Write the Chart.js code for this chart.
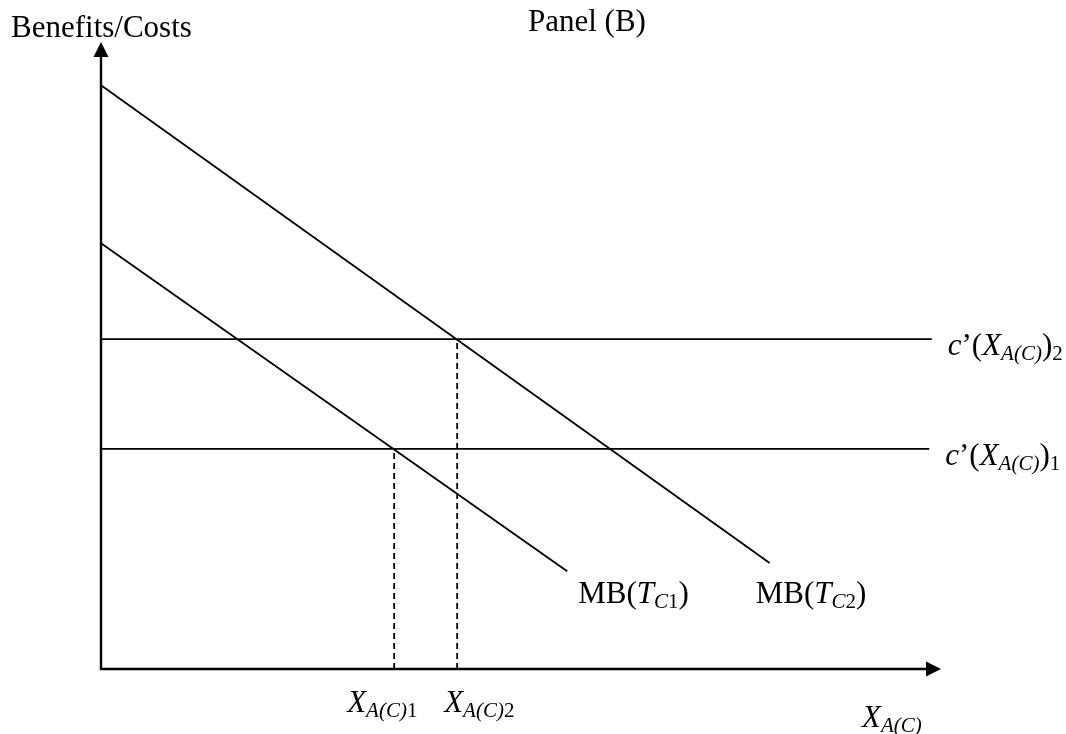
<!DOCTYPE html>
<html>
<head>
	<style type="text/css">
	body{ margin: 0; background: #fff; }
	#wrap{ width: 1066px; height: 734px; }
	</style>
	<title>Panel (B)</title>
	<script type="text/javascript" src="https://cdn.jsdelivr.net/npm/chart.js@4.4.0/dist/chart.umd.min.js"></script>
</head>
<body>
<div id="wrap"><canvas id="chart" width="1066" height="734"></canvas></div>
<script type="text/javascript">
	// values (axis units 0..10 on both axes)
	var mb1X = [0, 5.55];
	var mb1Y = [6.79, 1.56];
	var mb2X = [0, 7.96];
	var mb2Y = [9.31, 1.69];
	var costLevels = [3.51, 5.26];   // c'(X)1, c'(X)2
	var costEndX = [9.86, 9.89];
	var eqX = [3.49, 4.24];           // X_A(C)1, X_A(C)2

	function pts(xs, ys) {
		var out = [];
		for (var i = 0; i < xs.length; ++i) out.push({x: xs[i], y: ys[i]});
		return out;
	}

	function line(data, dash) {
		return {
			data: data,
			borderColor: '#000',
			borderWidth: 1.8,
			borderDash: dash || [],
			pointRadius: 0,
			fill: false,
			clip: false,
			tension: 0
		};
	}

	var SERIF = '"Liberation Serif", "Times New Roman", serif';
	var BIG = 31, SMALL = 21;

	// parts: [text, italic, sub]
	function rich(ctx, x, y, parts) {
		for (var i = 0; i < parts.length; ++i) {
			var p = parts[i];
			ctx.font = (p[1] ? 'italic ' : '') + (p[2] ? SMALL : BIG) + 'px ' + SERIF;
			ctx.fillText(p[0], x, y + (p[2] ? 5 : 0));
			x += ctx.measureText(p[0]).width;
		}
	}

	var decor = {
		id: 'decor',
		afterDatasetsDraw: function (chart) {
			var ctx = chart.ctx, a = chart.chartArea;
			var sx = chart.scales.x, sy = chart.scales.y;
			var ox = sx.getPixelForValue(0), oy = sy.getPixelForValue(0);
			ctx.save();
			ctx.strokeStyle = '#000';
			ctx.fillStyle = '#000';
			ctx.lineWidth = 2.4;
			ctx.beginPath();
			ctx.moveTo(ox, a.top + 10);
			ctx.lineTo(ox, oy);
			ctx.lineTo(a.right - 10, oy);
			ctx.stroke();
			// arrow heads
			ctx.beginPath();
			ctx.moveTo(ox, a.top);
			ctx.lineTo(ox - 7.5, a.top + 15);
			ctx.lineTo(ox + 7.5, a.top + 15);
			ctx.closePath();
			ctx.fill();
			ctx.beginPath();
			ctx.moveTo(a.right, oy);
			ctx.lineTo(a.right - 15, oy - 7.5);
			ctx.lineTo(a.right - 15, oy + 7.5);
			ctx.closePath();
			ctx.fill();

			ctx.textBaseline = 'alphabetic';
			ctx.textAlign = 'left';
			rich(ctx, 11, 37, [['Benefits/Costs', false, false]]);
			rich(ctx, 528, 31, [['Panel (B)', false, false]]);

			// cost curve labels
			for (var i = 0; i < costLevels.length; ++i) {
				var lx = sx.getPixelForValue(costEndX[i]) + 16;
				var ly = sy.getPixelForValue(costLevels[i]) + 16;
				rich(ctx, lx, ly, [['c', true, false], ['\u2019(', false, false], ['X', true, false],
					['A(C)', true, true], [')', false, false], [String(i + 1), false, true]]);
			}

			// MB labels
			rich(ctx, sx.getPixelForValue(mb1X[1]) + 11, sy.getPixelForValue(mb1Y[1]) + 32,
				[['MB(', false, false], ['T', true, false], ['C', true, true], ['1', false, true], [')', false, false]]);
			rich(ctx, sx.getPixelForValue(mb2X[1]) - 14, sy.getPixelForValue(mb2Y[1]) + 40,
				[['MB(', false, false], ['T', true, false], ['C', true, true], ['2', false, true], [')', false, false]]);

			// equilibrium quantity labels
			var offs = [-47, -13];
			for (var j = 0; j < eqX.length; ++j) {
				rich(ctx, sx.getPixelForValue(eqX[j]) + offs[j], oy + 43,
					[['X', true, false], ['A(C)', true, true], [String(j + 1), false, true]]);
			}
			rich(ctx, 862, oy + 58, [['X', true, false], ['A(C)', true, true]]);
			ctx.restore();
		}
	};

	var datasets = [
		line(pts(mb1X, mb1Y)),
		line(pts(mb2X, mb2Y)),
		line(pts([0, costEndX[0]], [costLevels[0], costLevels[0]])),
		line(pts([0, costEndX[1]], [costLevels[1], costLevels[1]])),
		line(pts([eqX[0], eqX[0]], [0, costLevels[0]]), [6, 4]),
		line(pts([eqX[1], eqX[1]], [0, costLevels[1]]), [6, 4])
	];

	new Chart(document.getElementById('chart').getContext('2d'), {
		type: 'line',
		data: {datasets: datasets},
		options: {
			responsive: false,
			animation: false,
			layout: {padding: {left: 101, right: 125, top: 42, bottom: 65}},
			plugins: {legend: {display: false}, tooltip: {enabled: false}},
			scales: {
				x: {type: 'linear', min: 0, max: 10, display: false},
				y: {type: 'linear', min: 0, max: 10, display: false}
			}
		},
		plugins: [decor]
	});
</script>
</body>
</html>
